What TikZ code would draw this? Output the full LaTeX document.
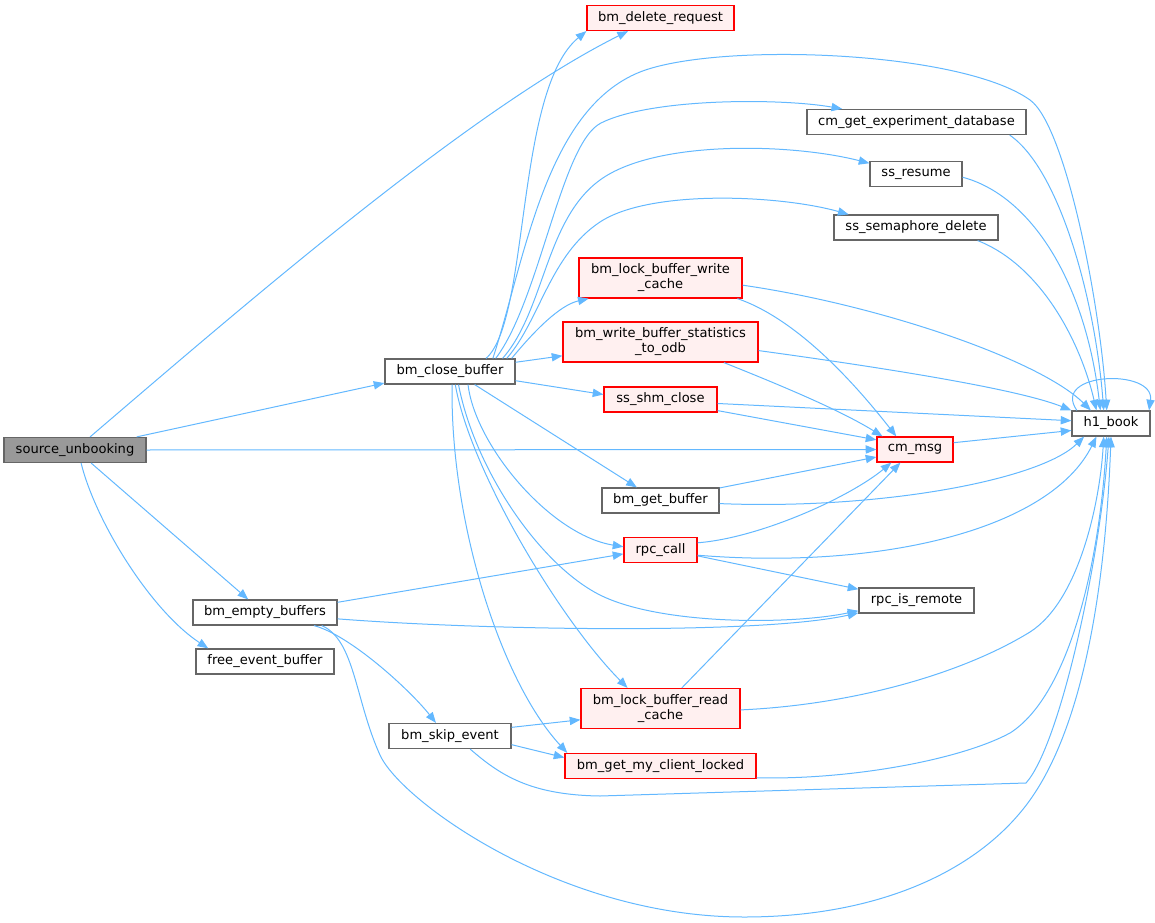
\documentclass[tikz,border=0pt]{standalone}
\usepackage{fontspec}
\setmainfont{DejaVu Sans}
\usetikzlibrary{arrows.meta}
\definecolor{cedge}{HTML}{63B8FF}
\definecolor{cred}{HTML}{FF0000}
\definecolor{cpink}{HTML}{FFF0F0}
\definecolor{cgray}{HTML}{666666}
\definecolor{croot}{HTML}{999999}
\tikzset{
  fn/.style={draw=cgray, fill=white, line width=0.9pt, inner sep=1pt,
    minimum height=18.75pt, align=center, font=\fontsize{9.8}{11.2}\selectfont},
  fnred/.style={fn, draw=cred, fill=cpink},
  fnroot/.style={fn, fill=croot},
  callto/.style={draw=cedge, line width=0.75pt, -{Triangle[length=8pt,width=6.2pt]}},
}
\begin{document}
\begin{tikzpicture}[x=0.75pt,y=-0.75pt]
        \useasboundingbox (0,0) rectangle (1155,923);
        \node[fnroot, minimum width=106.5pt] at (75,450) (src) {source\_unbooking};
        \node[fn, minimum width=97.5pt] at (450,371.5) (close) {bm\_close\_buffer};
        \node[fn, minimum width=108pt] at (265,612.5) (emptybuf) {bm\_empty\_buffers};
        \node[fn, minimum width=103.5pt] at (265,661.5) (freeevt) {free\_event\_buffer};
        \node[fn, minimum width=91.5pt] at (450,736) (skipevt) {bm\_skip\_event};
        \node[fnred, minimum width=110.25pt] at (660.5,18) (delreq) {bm\_delete\_request};
        \node[fnred, minimum width=122.25pt, minimum height=30pt] at (660.5,278) (lockwrite) {bm\_lock\_buffer\_write\\\_cache};
        \node[fnred, minimum width=146.25pt, minimum height=30pt] at (660.5,342) (writestat) {bm\_write\_buffer\_statistics\\\_to\_odb};
        \node[fnred, minimum width=84.75pt] at (660.5,399.5) (shmclose) {ss\_shm\_close};
        \node[fn, minimum width=87.75pt] at (660.5,500.5) (getbuf) {bm\_get\_buffer};
        \node[fnred, minimum width=54.75pt] at (660.5,550) (rpccall) {rpc\_call};
        \node[fnred, minimum width=119.25pt, minimum height=30pt] at (660.5,708.5) (lockread) {bm\_lock\_buffer\_read\\\_cache};
        \node[fnred, minimum width=143.25pt] at (660.5,766) (clientlocked) {bm\_get\_my\_client\_locked};
        \node[fn, minimum width=164.25pt] at (916.5,122) (cmgetdb) {cm\_get\_experiment\_database};
        \node[fn, minimum width=69pt] at (916,174) (ssresume) {ss\_resume};
        \node[fn, minimum width=123pt] at (916,227.5) (sssem) {ss\_semaphore\_delete};
        \node[fnred, minimum width=57pt] at (915,449.5) (cmmsg) {cm\_msg};
        \node[fn, minimum width=86.25pt] at (916.5,600.5) (rpcremote) {rpc\_is\_remote};
        \node[fn, minimum width=58.5pt] at (1111,423.5) (h1book) {h1\_book};
        % source_unbooking
        \draw[callto] (src.41) .. controls (250,300) and (470,110) .. (delreq.202);
        \draw[callto] (src.12) -- (close.190);
        \draw[callto] (src.east) -- (cmmsg.west);
        \draw[callto] (src.-39) -- (emptybuf.142);
        \draw[callto] (src.-65) .. controls (95,520) and (150,610) .. (freeevt.167);
        % bm_close_buffer
        \draw[callto] (close.20) .. controls (530,320) and (515,90) .. (delreq.south west);
        \draw[callto] (close.17) .. controls (525,260) and (545,110) .. (640,72) .. controls (716,42) and (960,50) .. (1030,100) .. controls (1065,125) and (1100,300) .. (h1book.108);
        \draw[callto] (close.16) .. controls (540,300) and (561,143) .. (601,123) .. controls (651,98) and (780,98) .. (cmgetdb.170);
        \draw[callto] (close.14) .. controls (545,310) and (545,220) .. (600,180) .. controls (655,140) and (790,143) .. (ssresume.167);
        \draw[callto] (close.13) .. controls (540,320) and (550,255) .. (600,222) .. controls (650,189) and (780,195) .. (sssem.169);
        \draw[callto] (close.12) .. controls (535,330) and (560,305) .. (lockwrite.196);
        \draw[callto] (close.8) -- (writestat.188);
        \draw[callto] (close.-8) -- (shmclose.175);
        \draw[callto] (close.-28) -- (getbuf.151);
        \draw[callto] (close.-36) .. controls (475,445) and (550,535) .. (rpccall.175);
        \draw[callto] (close.-57) .. controls (475,470) and (540,565) .. (600,595) .. controls (660,625) and (790,625) .. (rpcremote.190);
        \draw[callto] (close.-68) .. controls (470,470) and (560,620) .. (lockread.148);
        \draw[callto] (close.-81) .. controls (450,520) and (500,680) .. (clientlocked.172);
        % bm_empty_buffers
        \draw[callto] (emptybuf.8) -- (rpccall.186);
        \draw[callto] (emptybuf.-5) .. controls (480,630) and (760,635) .. (rpcremote.192);
        \draw[callto] (emptybuf.-15) .. controls (350,635) and (410,690) .. (skipevt.137);
        \draw[callto] (emptybuf.-13) .. controls (355,640) and (355,700) .. (380,755) .. controls (400,800) and (560,917) .. (744,917) .. controls (880,917) and (980,870) .. (1030,800) .. controls (1080,730) and (1105,600) .. (h1book.south);
        % bm_skip_event
        \draw[callto] (skipevt.8) -- (lockread.188);
        \draw[callto] (skipevt.-8) -- (clientlocked.175);
        \draw[callto] (skipevt.-33) .. controls (500,775) and (530,795) .. (600,796) -- (1026,783) .. controls (1060,745) and (1100,560) .. (h1book.261);
        % the rest
        \draw[callto] (lockwrite.-15) .. controls (800,320) and (860,390) .. (cmmsg.145);
        \draw[callto] (lockwrite.-5) .. controls (880,305) and (1040,360) .. (h1book.147);
        \draw[callto] (writestat.-18) .. controls (780,385) and (840,410) .. (cmmsg.158);
        \draw[callto] (writestat.-5) .. controls (900,370) and (1020,390) .. (h1book.north west);
        \draw[callto] (shmclose.-4) -- (h1book.176);
        \draw[callto] (shmclose.-11) -- (cmmsg.166);
        \draw[callto] (cmmsg.10) -- (h1book.190);
        \draw[callto] (getbuf.12) -- (cmmsg.191);
        \draw[callto] (getbuf.-3) .. controls (880,510) and (1040,480) .. (h1book.206);
        \draw[callto] (rpccall.11) .. controls (760,538) and (850,497) .. (cmmsg.209);
        \draw[callto] (rpccall.-8) .. controls (880,570) and (1050,530) .. (h1book.222);
        \draw[callto] (rpccall.-9) -- (rpcremote.169);
        \draw[callto] (lockread.44) -- (cmmsg.222);
        \draw[callto] (lockread.-1) .. controls (850,705) and (960,675) .. (1030,632) .. controls (1080,600) and (1100,500) .. (h1book.241);
        \draw[callto] (clientlocked.-7) .. controls (850,780) and (960,760) .. (1010,733) .. controls (1070,695) and (1100,560) .. (h1book.252);
        \draw[callto] (cmgetdb.-8) .. controls (1060,170) and (1095,300) .. (h1book.119);
        \draw[callto] (ssresume.-4) .. controls (1030,195) and (1085,280) .. (h1book.129);
        \draw[callto] (sssem.-12) .. controls (1040,265) and (1080,340) .. (h1book.138);
        \draw[callto] (h1book.159) .. controls (1050,372) and (1155,368) .. (h1book.19);
      \end{tikzpicture}
\end{document}
